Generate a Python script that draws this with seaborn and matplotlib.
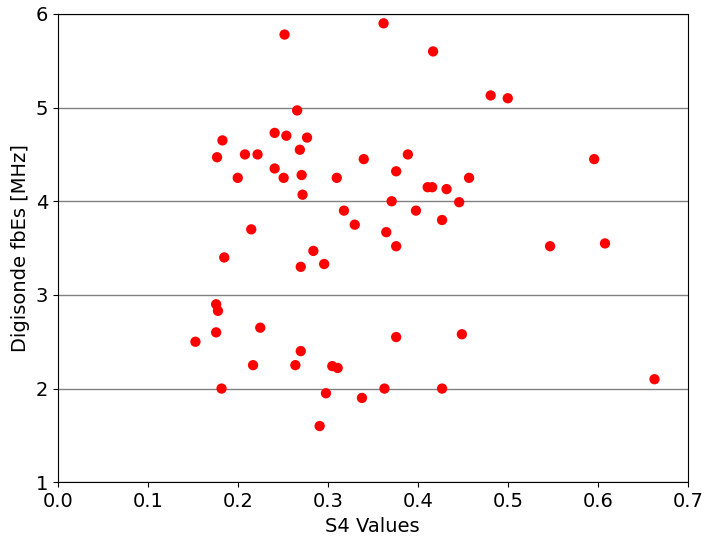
import numpy as np
import pandas as pd
import matplotlib
matplotlib.use('Agg')
import matplotlib.pyplot as plt
import seaborn as sns

s4 = [0.153, 0.176, 0.176, 0.178, 0.177, 0.182, 0.183, 0.185, 0.200, 0.208,
      0.215, 0.217, 0.222, 0.225, 0.241, 0.241, 0.251, 0.252, 0.254, 0.264,
      0.266, 0.269, 0.270, 0.270, 0.271, 0.272, 0.277, 0.284, 0.291, 0.296,
      0.298, 0.305, 0.310, 0.311, 0.318, 0.330, 0.338, 0.340, 0.362, 0.363,
      0.365, 0.371, 0.376, 0.376, 0.376, 0.389, 0.398, 0.411, 0.416, 0.417,
      0.427, 0.427, 0.432, 0.446, 0.449, 0.457, 0.481, 0.500, 0.547, 0.596,
      0.608, 0.663]
fbes = [2.50, 2.90, 2.60, 2.83, 4.47, 2.00, 4.65, 3.40, 4.25, 4.50,
        3.70, 2.25, 4.50, 2.65, 4.73, 4.35, 4.25, 5.78, 4.70, 2.25,
        4.97, 4.55, 2.40, 3.30, 4.28, 4.07, 4.68, 3.47, 1.60, 3.33,
        1.95, 2.24, 4.25, 2.22, 3.90, 3.75, 1.90, 4.45, 5.90, 2.00,
        3.67, 4.00, 4.32, 3.52, 2.55, 4.50, 3.90, 4.15, 4.15, 5.60,
        3.80, 2.00, 4.13, 3.99, 2.58, 4.25, 5.13, 5.10, 3.52, 4.45,
        3.55, 2.10]

df = pd.DataFrame({'S4': s4, 'fbEs': fbes})

plt.rcParams['font.size'] = 14
fig, ax = plt.subplots(figsize=(7.04, 5.37), dpi=100)
sns.scatterplot(data=df, x='S4', y='fbEs', color='red', s=55, edgecolor='none', ax=ax, zorder=3)
ax.set_xlim(0, 0.7)
ax.set_ylim(1, 6)
ax.set_yticks([1, 2, 3, 4, 5, 6])
ax.yaxis.grid(True, color='gray', linewidth=1)
ax.set_axisbelow(True)
ax.set_xlabel('S4 Values')
ax.set_ylabel('Digisonde fbEs [MHz]')
fig.subplots_adjust(left=0.082, right=0.977, top=0.974, bottom=0.102)
plt.savefig('out.png', dpi=100)
